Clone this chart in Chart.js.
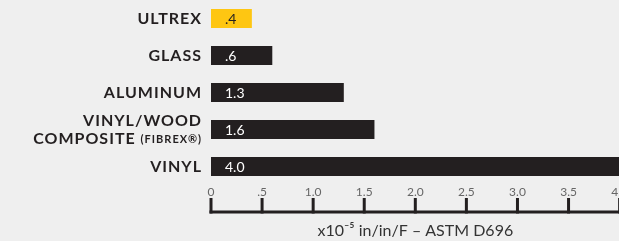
<!DOCTYPE html>
<html>
<head>
<meta charset="utf-8">
<script src="https://cdn.jsdelivr.net/npm/chart.js@4.4.1/dist/chart.umd.min.js"></script>
<style>
  html, body { margin: 0; padding: 0; background: #efefef; overflow: hidden; }
  #wrap { position: relative; width: 628px; height: 241px; }
</style>
</head>
<body>
<div id="wrap"><canvas id="chart"></canvas></div>
<script>
const categories = ['ULTREX', 'GLASS', 'ALUMINUM', ['VINYL/WOOD', 'COMPOSITE (FIBREX®)'], 'VINYL'];
const values = [0.4, 0.6, 1.3, 1.6, 4.0];
const valueLabels = ['.4', '.6', '1.3', '1.6', '4.0'];
const barColors = ['#fec612', '#231f20', '#231f20', '#231f20', '#231f20'];
const valueColors = ['#231f20', '#ffffff', '#ffffff', '#ffffff', '#ffffff'];
const tickLabels = ['0', '.5', '1.0', '1.5', '2.0', '2.5', '3.0', '3.5', '4.0'];
const axisTitle = 'x10⁻⁵ in/in/F – ASTM D696';

const DARK = '#231f20';

// category names on the left, right aligned, with the small "(FIBREX®)"
const categoryLabels = {
    id: 'categoryLabels',
    afterDraw(chart) {
        const ctx = chart.ctx;
        const y = chart.scales.y;
        const right = chart.chartArea.left - 10;
        ctx.save();
        ctx.fillStyle = DARK;
        ctx.textBaseline = 'middle';
        ctx.textAlign = 'left';
        ctx.letterSpacing = '1px';
        categories.forEach((cat, i) => {
            const lines = Array.isArray(cat) ? cat : [cat];
            const cy = y.getPixelForValue(i);
            const lh = 18;
            lines.forEach((line, j) => {
                const ly = cy + (j - (lines.length - 1) / 2) * lh;
                const k = line.indexOf('(');
                const big = k > -1 ? line.slice(0, k) : line;
                const small = k > -1 ? line.slice(k) : '';
                ctx.font = 'bold 16px Lato';
                const wb = ctx.measureText(big).width;
                ctx.font = 'bold 11px Lato';
                const ws = small ? ctx.measureText(small).width : 0;
                let x = right - wb - ws + 1;
                ctx.font = 'bold 16px Lato';
                ctx.fillText(big, x, ly);
                if (small) {
                    ctx.font = 'bold 11px Lato';
                    ctx.fillText(small, x + wb, ly + 1);
                }
            });
        });
        ctx.restore();
    }
};

// value inside each bar
const valueText = {
    id: 'valueText',
    afterDatasetsDraw(chart) {
        const ctx = chart.ctx;
        const meta = chart.getDatasetMeta(0);
        ctx.save();
        ctx.font = '14px Lato';
        ctx.textBaseline = 'middle';
        ctx.textAlign = 'left';
        meta.data.forEach((bar, i) => {
            ctx.fillStyle = valueColors[i];
            ctx.fillText(valueLabels[i], bar.base + 14, bar.y + 1);
        });
        ctx.restore();
    }
};

// ruler under the tick labels: tick marks and baseline
const ruler = {
    id: 'ruler',
    afterDraw(chart) {
        const ctx = chart.ctx;
        const x = chart.scales.x;
        const top = chart.chartArea.bottom + 13;
        const base = chart.chartArea.bottom + 27;
        ctx.save();
        ctx.strokeStyle = DARK;
        ctx.lineWidth = 3;
        x.ticks.forEach((t, i) => {
            const px = x.getPixelForTick(i);
            ctx.beginPath();
            ctx.moveTo(px, top);
            ctx.lineTo(px, base + 1.5);
            ctx.stroke();
        });
        ctx.beginPath();
        ctx.moveTo(x.getPixelForValue(0) - 1.5, base);
        ctx.lineTo(chart.width, base);
        ctx.stroke();
        ctx.restore();
    }
};

new Chart(document.getElementById('chart'), {
    type: 'bar',
    data: {
        labels: categories,
        datasets: [{
            data: values,
            backgroundColor: barColors,
            barPercentage: 0.514,
            categoryPercentage: 1
        }]
    },
    options: {
        indexAxis: 'y',
        responsive: true,
        maintainAspectRatio: false,
        animation: false,
        layout: { padding: { left: 211, right: 0, top: 0, bottom: 0 } },
        plugins: {
            legend: { display: false },
            tooltip: { enabled: false }
        },
        scales: {
            y: {
                display: false
            },
            x: {
                min: 0,
                max: 4,
                grid: { display: false, drawTicks: false },
                border: { display: false },
                ticks: {
                    stepSize: 0.5,
                    padding: 0,
                    color: '#666',
                    font: { family: 'Lato', size: 12 },
                    maxRotation: 0,
                    callback: (v, i) => tickLabels[i]
                },
                title: {
                    display: true,
                    text: axisTitle,
                    color: '#333',
                    font: { family: 'Lato', size: 16 },
                    padding: { top: 0, bottom: 1 }
                },
                afterFit(scale) { scale.height = 56; }
            }
        }
    },
    plugins: [categoryLabels, valueText, ruler]
});
</script>
</body>
</html>
